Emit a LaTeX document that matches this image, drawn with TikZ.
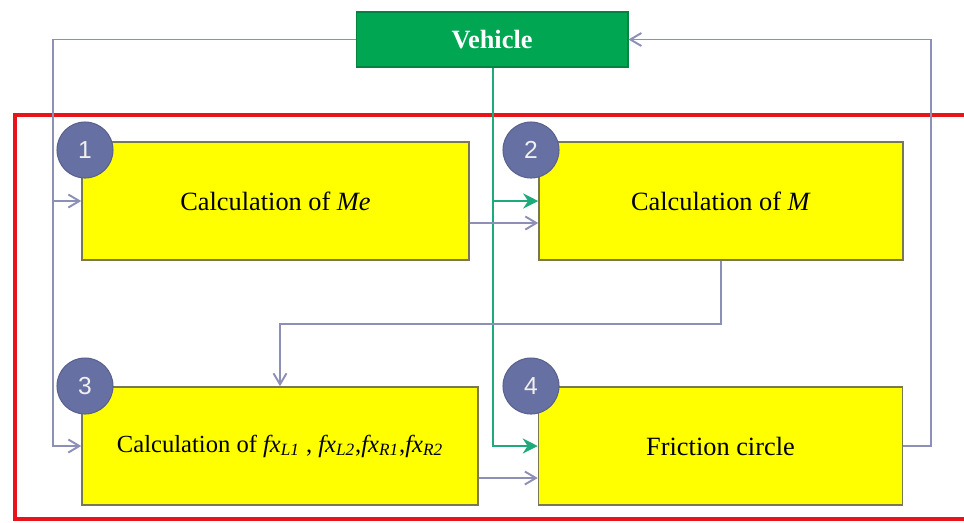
\documentclass[tikz,border=0pt]{standalone}
\usepackage{fontspec}
\setmainfont{LiberationSerif}[Extension=.ttf, UprightFont=*-Regular, BoldFont=*-Bold, ItalicFont=*-Italic, BoldItalicFont=*-BoldItalic]
\setsansfont{Liberation Sans}
\usetikzlibrary{arrows.meta,calc}

\definecolor{boxyellow}{HTML}{FFFF00}
\definecolor{boxline}{HTML}{7A7850}
\definecolor{plantgreen}{HTML}{00A651}
\definecolor{feedgreen}{HTML}{1FAA7C}
\definecolor{linkgray}{HTML}{8C8FB6}
\definecolor{badgefill}{HTML}{6770A2}
\definecolor{badgeline}{HTML}{58618F}
\definecolor{framered}{HTML}{E8141B}

\newcommand{\fxsub}[1]{\textit{fx}\textsubscript{\textit{#1}}}

\begin{document}
\begin{tikzpicture}
    [
        x=0.02cm, y=-0.02cm,
        block/.style={draw=boxline, fill=boxyellow, line width=0.9pt, minimum height=2.36cm, inner sep=0pt, font=\fontsize{15}{18}\selectfont},
        badge/.style={circle, fill=badgefill, draw=badgeline, line width=0.6pt, minimum size=1.12cm, inner sep=0pt, text=gray!12, font=\sffamily\fontsize{14}{16}\selectfont},
        link/.style={draw=linkgray, line width=1.1pt, -{Straight Barb[length=2.2mm,width=2.6mm]}},
        feed/.style={draw=feedgreen, line width=1.6pt, -{Stealth[length=3mm,width=3mm]}}
    ]
    \useasboundingbox (0,0) rectangle (964,522);

    % outer frame round the four steps
    \draw[framered, line width=2.5pt] (970,115) -- (15,115) -- (15,519) -- (970,519);

    % plant and the four steps
    \node[draw=plantgreen!80!black, fill=plantgreen, line width=0.6pt, minimum width=5.44cm, minimum height=1.1cm, text=white, font=\bfseries\fontsize{15}{18}\selectfont] (vehicle) at (492,39.5) {Vehicle};
    \node[block, minimum width=7.74cm] (calcme) at (275.5,201) {Calculation of \textit{Me}};
    \node[block, minimum width=7.28cm] (calcm) at (721,201) {Calculation of \textit{M}};
    \node[block, minimum width=7.92cm, font=\fontsize{14}{17}\selectfont] (calcfx) at (280,446) {Calculation of \fxsub{L1} , \fxsub{L2},\fxsub{R1},\fxsub{R2}};
    \node[block, minimum width=7.28cm] (friction) at (720.5,446) {Friction circle};

    % step numbers
    \node[badge] (n1) at (85,150) {1};
    \node[badge] (n2) at (531,150) {2};
    \node[badge] (n3) at (85,386) {3};
    \node[badge] (n4) at (531,386) {4};

    % buses
    \coordinate (busL) at (53,0);
    \coordinate (busG) at (493,0);
    \coordinate (busR) at (931,0);

    % vehicle state to steps 1 and 3
    \draw[link] (vehicle.west) -| (busL |- calcfx.west) -- (calcfx.west);
    \draw[link] (busL |- calcme.west) -- (calcme.west);

    % vehicle state to steps 2 and 4
    \draw[feed] (busG |- vehicle.south) -- (busG |- friction.west) -- (friction.west);
    \draw[feed] (busG |- calcm.west) -- (calcm.west);

    % step to step
    \draw[link] ($(calcme.east)+(0,22)$) -- ($(calcm.west)+(0,22)$);
    \draw[link] (calcm.south) -- ++(0,63) -| (calcfx.north);
    \draw[link] ($(calcfx.east)+(0,32)$) -- ($(friction.west)+(0,32)$);

    % back to the vehicle
    \draw[link] (friction.east) -| (busR |- vehicle.east) -- (vehicle.east);
\end{tikzpicture}
\end{document}
